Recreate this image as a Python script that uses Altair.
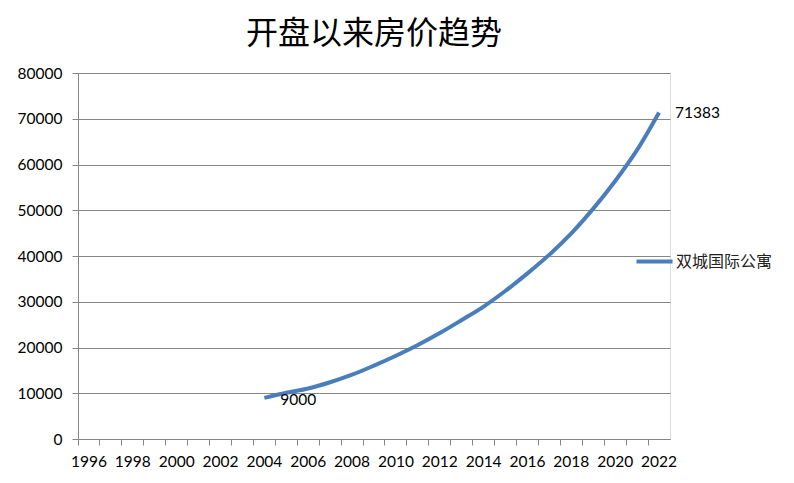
import altair as alt
import pandas as pd

years_all = [str(y) for y in range(1996, 2023)]
years = [str(y) for y in range(2004, 2023)]
prices = [9000, 10100, 11050, 12400, 14050, 16050, 18200, 20550, 23150, 26000,
          28950, 32400, 36200, 40300, 44950, 50350, 56400, 63200, 71383]
series_name = "双城国际公寓"
title_text = "开盘以来房价趋势"

df = pd.DataFrame({"year": years, "price": prices, "series": series_name})
ends = df.iloc[[0, -1]].copy()
ends["label"] = ends["price"].astype(int).astype(str)
ends["pos"] = ["start", "end"]

LINE = "#4A7EBB"
GRID = "#868686"
LFONT = "Lato"

xscale = alt.Scale(type="band", domain=years_all, paddingInner=0, paddingOuter=0)
x = alt.X("year:O", scale=xscale,
          axis=alt.Axis(title=None, labelAngle=0, bandPosition=0,
                        labelFont=LFONT, labelFontSize=15.5, labelColor="black", labelPadding=9,
                        labelExpr="toNumber(datum.value) % 2 == 0 ? datum.label : ''",
                        tickColor=GRID, domainColor=GRID, tickSize=6, grid=False))
y = alt.Y("price:Q", scale=alt.Scale(domain=[0, 80000]),
          axis=alt.Axis(title=None, values=list(range(0, 80001, 10000)), format="d",
                        labelFont=LFONT, labelFontSize=15.5, labelColor="black", labelPadding=10,
                        gridColor=GRID, tickColor=GRID, domainColor=GRID, tickSize=6))

line = alt.Chart(df).mark_line(strokeWidth=4, interpolate="catmull-rom").encode(
    x=x, y=y,
    color=alt.Color("series:N", scale=alt.Scale(domain=[series_name], range=[LINE]),
                    legend=alt.Legend(title=None, orient="none", legendX=556, legendY=168,
                                      symbolType="stroke", symbolSize=1300,
                                      symbolStrokeWidth=4, labelFont="Noto Sans CJK SC",
                                      labelFontSize=16, labelColor="#222222", labelOffset=1)))

lab_start = alt.Chart(ends[ends["pos"] == "start"]).mark_text(
    align="left", baseline="middle", dx=16, dy=2, font=LFONT, fontSize=15.5, color="black"
).encode(x=alt.X("year:O", scale=xscale), y="price:Q", text="label:N")
lab_end = alt.Chart(ends[ends["pos"] == "end"]).mark_text(
    align="left", baseline="middle", dx=16, dy=1, font=LFONT, fontSize=15.5, color="black"
).encode(x=alt.X("year:O", scale=xscale), y="price:Q", text="label:N")

chart = alt.layer(line, lab_start, lab_end).properties(
    width=592, height=366,
    title=alt.TitleParams(title_text, font="Noto Sans CJK SC", fontSize=32,
                          fontWeight="normal", color="black", offset=15, anchor="middle"),
    autosize=alt.AutoSizeParams(type="none"),
    padding={"left": 70, "top": 65, "right": 116, "bottom": 36},
).configure_view(stroke=None).configure(background="white")

chart.save("out.html", embed_options={"renderer": "svg", "actions": False})
